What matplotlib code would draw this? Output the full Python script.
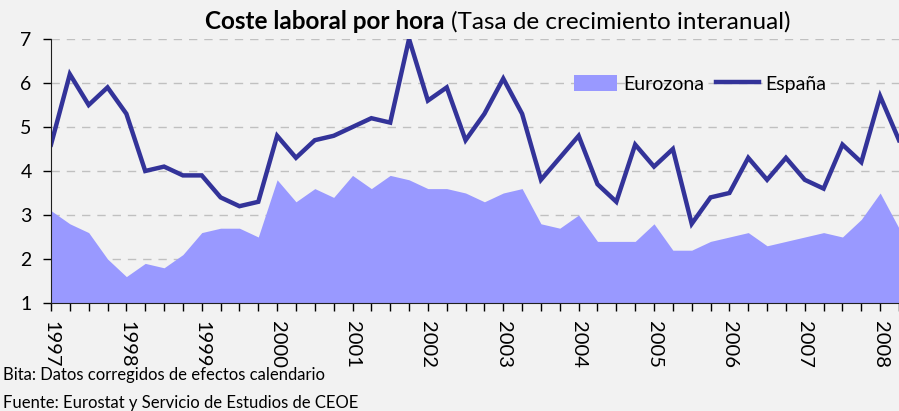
import numpy as np
import matplotlib.pyplot as plt

plt.rcParams['font.family'] = ['Lato', 'DejaVu Sans']

years = list(range(1997, 2009))
# quarterly, 1997Q1 .. 2008Q2
eurozona = [3.1, 2.8, 2.6, 2.0, 1.6, 1.9, 1.8, 2.1, 2.6, 2.7, 2.7, 2.5,
            3.8, 3.3, 3.6, 3.4, 3.9, 3.6, 3.9, 3.8, 3.6, 3.6, 3.5, 3.3,
            3.5, 3.6, 2.8, 2.7, 3.0, 2.4, 2.4, 2.4, 2.8, 2.2, 2.2, 2.4,
            2.5, 2.6, 2.3, 2.4, 2.5, 2.6, 2.5, 2.9, 3.5, 2.7]
espana = [4.6, 6.2, 5.5, 5.9, 5.3, 4.0, 4.1, 3.9, 3.9, 3.4, 3.2, 3.3,
          4.8, 4.3, 4.7, 4.8, 5.0, 5.2, 5.1, 7.0, 5.6, 5.9, 4.7, 5.3,
          6.1, 5.3, 3.8, 4.3, 4.8, 3.7, 3.3, 4.6, 4.1, 4.5, 2.8, 3.4,
          3.5, 4.3, 3.8, 4.3, 3.8, 3.6, 4.6, 4.2, 5.7, 4.7]

x = np.arange(len(espana))
bg = '#f2f2f2'

fig = plt.figure(figsize=(8.99, 4.11), dpi=100, facecolor=bg)
ax = fig.add_axes([51 / 899, 108 / 411, 1 - 51 / 899, 264 / 411])
ax.set_facecolor(bg)

ax.fill_between(x, 1, eurozona, color='#9999ff', lw=0, label='Eurozona', zorder=2)
ax.plot(x, espana, color='#333399', lw=3.2, label='España', zorder=3,
        solid_joinstyle='miter')

ax.set_ylim(1, 7)
ax.set_xlim(0, 44.85)
ax.set_yticks(range(1, 8))
ax.set_xticks(x, minor=True)
ax.set_xticks(np.arange(0, len(x), 4))
ax.set_xticklabels([str(y) for y in years], rotation=270, va='top', ha='center')
ax.tick_params(axis='x', which='both', length=6, width=1, direction='out', pad=7,
               labelsize=14.5)
ax.tick_params(axis='y', length=6, width=1, direction='out', pad=8, labelsize=14)
ax.grid(axis='y', linestyle=(0, (6, 5)), color='#c0c0c0', lw=1, zorder=1)
ax.set_axisbelow(True)
for s in ['top', 'right']:
    ax.spines[s].set_visible(False)
for s in ['left', 'bottom']:
    ax.spines[s].set_color('#202020')
    ax.spines[s].set_zorder(4)

leg = ax.legend(loc='upper left', bbox_to_anchor=(0.596, 0.93), ncol=2, frameon=False,
                fontsize=14, handlelength=2.2, handleheight=0.9, columnspacing=0.6,
                handletextpad=0.35)

t1 = fig.text(0.228, 0.948, 'Coste laboral por hora', fontsize=17.5, fontweight='bold',
              ha='left', va='center')
fig.canvas.draw()
bb = t1.get_window_extent()
fig.text(bb.x1 / 899 + 0.007, 0.948, '(Tasa de crecimiento interanual)', fontsize=17.5,
         ha='left', va='center')
fig.text(0.003, 0.088, 'Bita: Datos corregidos de efectos calendario', fontsize=12,
         va='center')
fig.text(0.003, 0.02, 'Fuente: Eurostat y Servicio de Estudios de CEOE', fontsize=12,
         va='center')

fig.savefig('out.png', dpi=100, facecolor=bg)
